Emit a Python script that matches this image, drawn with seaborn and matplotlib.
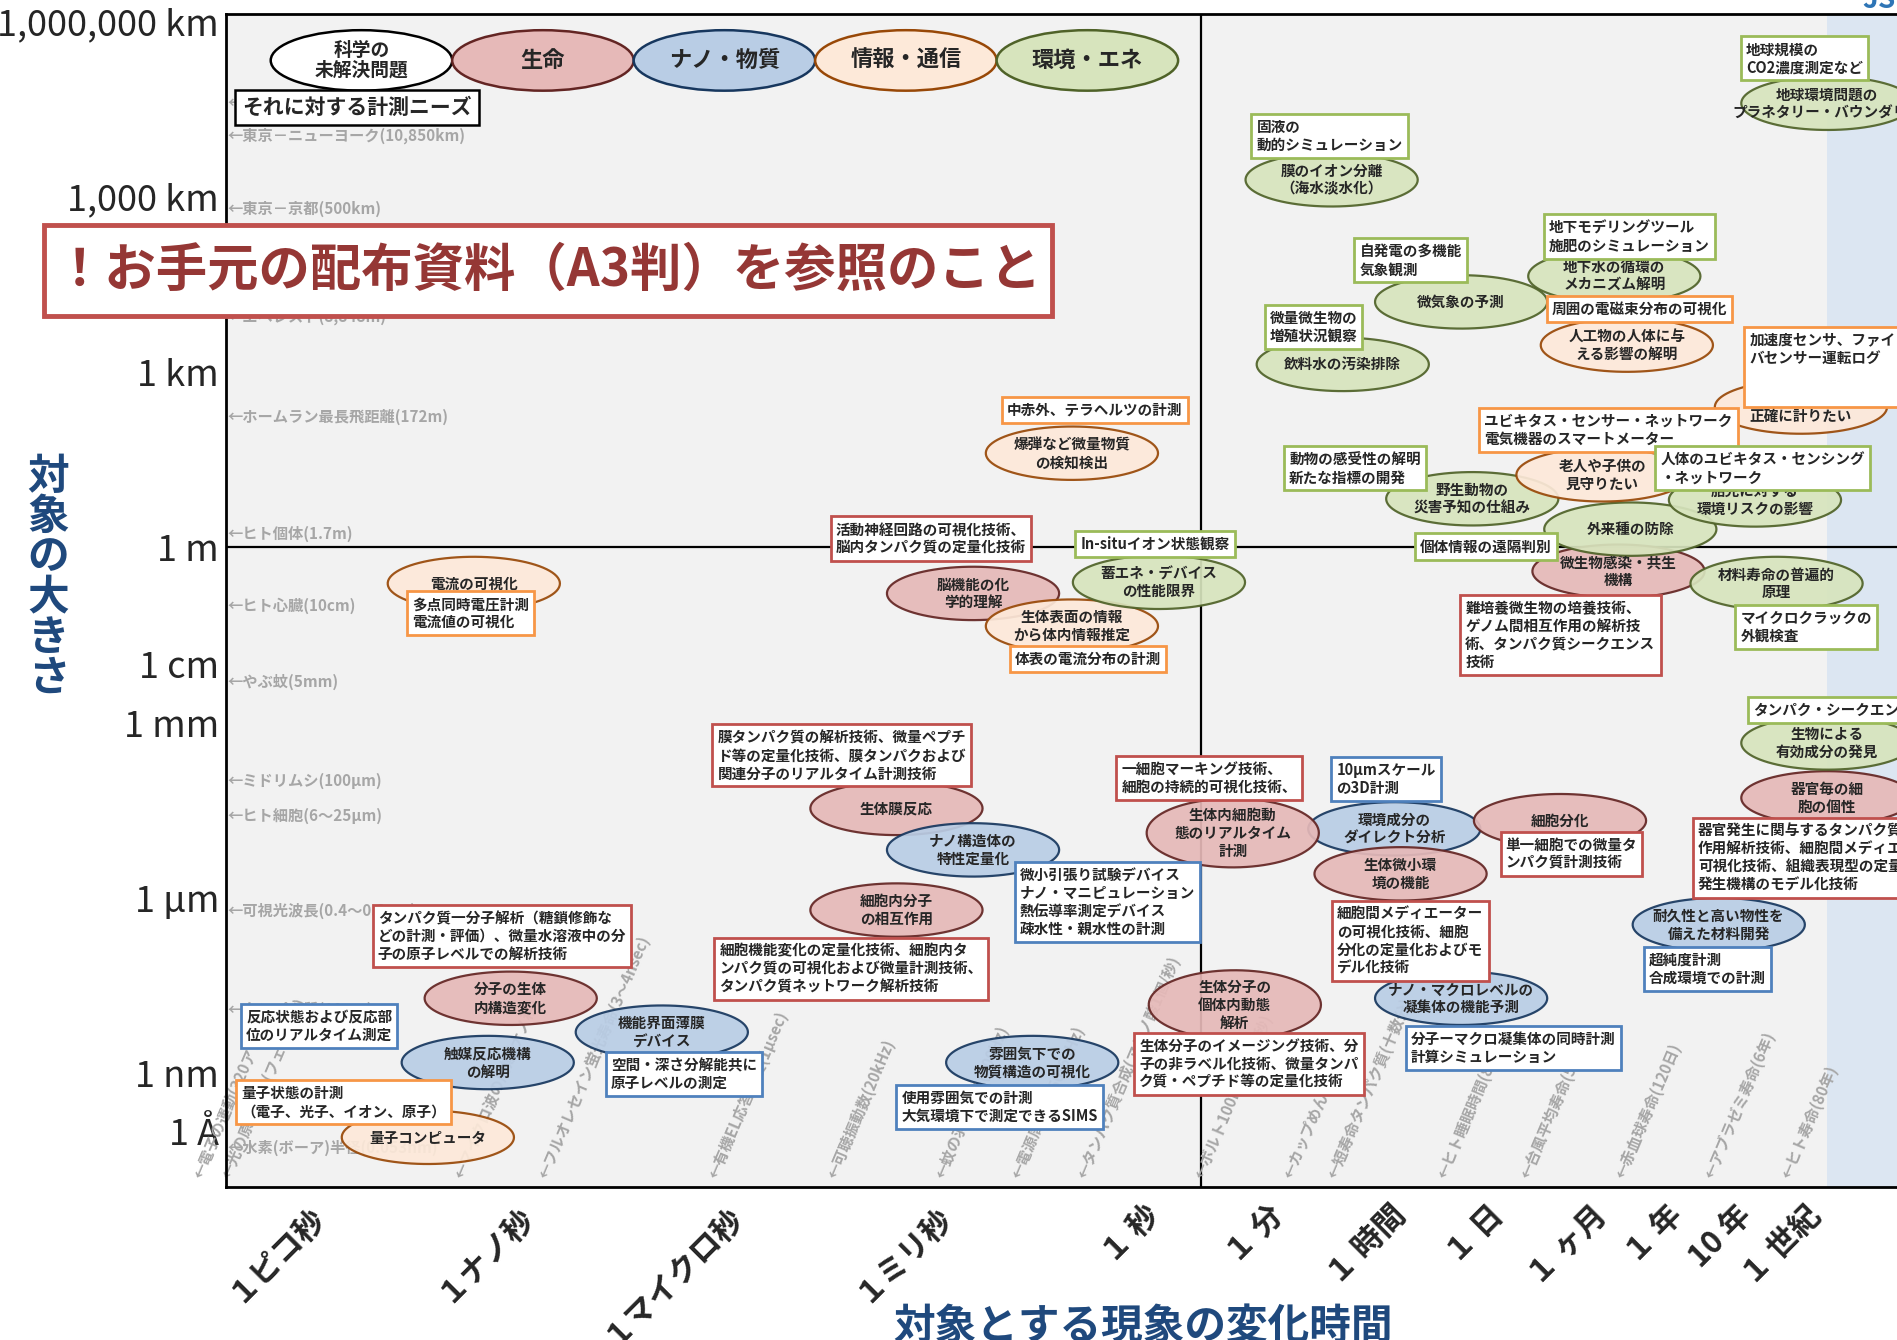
import matplotlib.pyplot as plt
import matplotlib.transforms as mtransforms
from matplotlib.markers import MarkerStyle
from matplotlib.patches import Ellipse, Rectangle
from matplotlib.path import Path
from matplotlib.ticker import LogLocator, NullFormatter
import numpy as np
import pandas as pd
import seaborn as sns

# ---------------------------------------------------------------- data ----
# axis ticks (time in seconds, size in metres)
time_tick_labels = ["１ピコ秒", "１ナノ秒", "１マイクロ秒", "１ミリ秒", "１ 秒", "１ 分",
                    "１ 時間", "１ 日", "１ ヶ月", "１ 年", "10 年", "１ 世紀"]
time_tick_seconds = [1e-12, 1e-9, 1e-6, 1e-3, 1, 60, 3600, 86400, 2.63e6,
                     3.156e7, 3.156e8, 3.156e9]
size_tick_labels = ["1,000,000 km", "1,000 km", "1 km", "1 m", "1 cm", "1 mm",
                    "1 μm", "1 nm", "1 Å"]
size_tick_exp = [9, 6, 3, 0, -2, -3, -6, -9, -10]

# grey reference scales
size_ref_labels = ["地球周囲(40,000km)", "東京－ニューヨーク(10,850km)", "東京－京都(500km)",
                   "エベレスト(8,848m)", "ホームラン最長飛距離(172m)", "ヒト個体(1.7m)",
                   "ヒト心臓(10cm)", "やぶ蚊(5mm)", "ミドリムシ(100μm)", "ヒト細胞(6～25μm)",
                   "可視光波長(0.4～0.8μm)", "タンパク質(10nm)", "水素(ボーア)半径(0.053nm)"]
size_ref_metres = [4e7, 1.085e7, 6.3e5, 8848, 172, 1.7, 0.1, 5e-3, 1e-4, 2.5e-5,
                   6e-7, 1.2e-8, 5.3e-11]
time_ref_labels = ["電子の運動(320アト秒)", "光の原子通過(フェムト秒)", "マイクロ波の周期(ナノ秒)",
                   "フルオレセイン蛍光寿命(3～4nsec)", "有機EL応答速度(1μsec)",
                   "可聴振動数(20kHz)", "蚊の羽ばたき(600Hz)", "電源周波数(50/60Hz)",
                   "タンパク質合成(アミノ酸1個/秒)", "ボルト100m走(9.58秒)", "カップめん(3分)",
                   "短寿命タンパク質(十数分)", "ヒト睡眠時間(8時間)", "台風平均寿命(5.3日)",
                   "赤血球寿命(120日)", "アブラゼミ寿命(6年)", "ヒト寿命(80年)"]
time_ref_exp = [-13.4, -13.0, -9.65, -8.45, -6.0, -4.3, -2.75, -1.65, -0.7, 0.98,
                2.26, 2.88, 4.46, 5.66, 7.02, 8.3, 9.4]

# research fields (legend row)
field_keys = ["open", "life", "nano", "info", "env"]
field_labels = ["科学の\n未解決問題", "生命", "ナノ・物質", "情報・通信", "環境・エネ"]

# themes (ellipses): label, field, log10 seconds, log10 metres
theme_labels = [
    "電流の可視化", "爆弾など微量物質\nの検知検出", "脳機能の化\n学的理解",
    "生体表面の情報\nから体内情報推定", "蓄エネ・デバイス\nの性能限界", "生体膜反応",
    "ナノ構造体の\n特性定量化", "細胞内分子\nの相互作用", "分子の生体\n内構造変化",
    "触媒反応機構\nの解明", "量子コンピュータ", "機能界面薄膜\nデバイス",
    "雰囲気下での\n物質構造の可視化", "生体内細胞動\n態のリアルタイム\n計測",
    "生体分子の\n個体内動態\n解析", "環境成分の\nダイレクト分析", "生体微小環\n境の機能",
    "細胞分化", "ナノ・マクロレベルの\n凝集体の機能予測", "耐久性と高い物性を\n備えた材料開発",
    "器官毎の細\n胞の個性", "生物による\n有効成分の発見", "微生物感染・共生\n機構",
    "材料寿命の普遍的\n原理", "野生動物の\n災害予知の仕組み", "外来種の防除",
    "老人や子供の\n見守りたい", "胎児に対する\n環境リスクの影響", "建造物の寿命を\n正確に計りたい",
    "膜のイオン分離\n（海水淡水化）", "微気象の予測", "地下水の循環の\nメカニズム解明",
    "人工物の人体に与\nえる影響の解明", "飲料水の汚染排除",
    "地球環境問題の\nプラネタリー・バウンダリー",
]
theme_fields = [
    "info", "info", "life", "info", "env", "life", "nano", "life", "life", "nano",
    "info", "nano", "nano", "life", "life", "nano", "life", "life", "nano", "nano",
    "life", "env", "life", "env", "env", "env", "info", "env", "info", "env",
    "env", "env", "info", "env", "env",
]
theme_time_exp = [
    -9.44, -0.85, -2.27, -0.85, 0.40, -3.37, -2.27, -3.37, -8.91, -9.24,
    -10.10, -6.74, -1.42, 1.46, 1.49, 3.78, 3.87, 6.16, 4.74, 8.44,
    10.0, 10.0, 7.0, 9.27, 4.90, 7.17, 6.77, 8.96, 9.62, 2.88,
    4.74, 6.94, 7.12, 3.04, 10.0,
]
theme_size_exp = [
    -0.62, 1.61, -0.79, -1.35, -0.60, -4.47, -5.18, -6.21, -7.72, -8.82,
    -10.10, -8.30, -8.82, -4.89, -7.83, -4.82, -5.59, -4.68, -7.72, -6.46,
    -4.29, -3.35, -0.41, -0.62, 0.83, 0.31, 1.24, 0.81, 2.40, 6.29,
    4.20, 4.64, 3.46, 3.13, 7.60,
]

# measurement needs (boxes): label, field, log10 seconds / metres of top-left corner
need_labels = [
    "多点同時電圧計測\n電流値の可視化", "中赤外、テラヘルツの計測",
    "活動神経回路の可視化技術、\n脳内タンパク質の定量化技術", "体表の電流分布の計測",
    "In-situイオン状態観察",
    "膜タンパク質の解析技術、微量ペプチ\nド等の定量化技術、膜タンパクおよび\n関連分子のリアルタイム計測技術",
    "細胞機能変化の定量化技術、細胞内タ\nンパク質の可視化および微量計測技術、\nタンパク質ネットワーク解析技術",
    "微小引張り試験デバイス\nナノ・マニピュレーション\n熱伝導率測定デバイス\n疎水性・親水性の計測",
    "タンパク質一分子解析（糖鎖修飾な\nどの計測・評価）、微量水溶液中の分\n子の原子レベルでの解析技術",
    "反応状態および反応部\n位のリアルタイム測定", "量子状態の計測\n（電子、光子、イオン、原子）",
    "空間・深さ分解能共に\n原子レベルの測定", "使用雰囲気での計測\n大気環境下で測定できるSIMS",
    "一細胞マーキング技術、\n細胞の持続的可視化技術、",
    "生体分子のイメージング技術、分\n子の非ラベル化技術、微量タンパ\nク質・ペプチド等の定量化技術",
    "10μmスケール\nの3D計測",
    "細胞間メディエーター\nの可視化技術、細胞\n分化の定量化およびモ\nデル化技術",
    "単一細胞での微量タ\nンパク質計測技術", "分子ーマクロ凝集体の同時計測\n計算シミュレーション",
    "超純度計測\n合成環境での計測",
    "器官発生に関与するタンパク質相互\n作用解析技術、細胞間メディエーターの\n可視化技術、組織表現型の定量化、\n発生機構のモデル化技術",
    "タンパク・シークエンサー",
    "難培養微生物の培養技術、\nゲノム間相互作用の解析技\n術、タンパク質シークエンス\n技術",
    "マイクロクラックの\n外観検査", "個体情報の遠隔判別", "動物の感受性の解明\n新たな指標の開発",
    "ユビキタス・センサー・ネットワーク\n電気機器のスマートメーター",
    "人体のユビキタス・センシング\n・ネットワーク", "加速度センサ、ファイ\nバセンサー運転ログ\n\n ",
    "固液の\n動的シミュレーション", "自発電の多機能\n気象観測",
    "地下モデリングツール\n施肥のシミュレーション", "周囲の電磁束分布の可視化",
    "微量微生物の\n増殖状況観察", "地球規模の\nCO2濃度測定など",
]
need_fields = [
    "info", "info", "life", "info", "env", "life", "life", "nano", "life", "nano",
    "info", "nano", "nano", "life", "life", "nano", "life", "life", "nano", "nano",
    "life", "env", "life", "env", "env", "env", "info", "env", "info", "env",
    "env", "env", "info", "env", "env",
]
need_time_exp = [
    -10.43, -1.88, -4.34, -1.77, -0.83, -6.04, -6.01, -1.70, -10.92, -12.81,
    -12.88, -7.57, -3.40, -0.24, 0.02, 2.85, 2.86, 5.28, 3.92, 7.34,
    8.04, 8.84, 4.70, 8.65, 4.05, 2.17, 4.97, 7.50, 8.78, 1.70,
    3.18, 5.90, 5.94, 1.89, 8.73,
]
need_size_exp = [
    -0.72, 2.61, 0.56, -1.66, 0.31, -3.00, -6.65, -5.36, -6.09, -7.78,
    -9.09, -8.61, -9.17, -3.54, -8.28, -3.56, -6.02, -4.84, -8.16, -6.81,
    -4.60, -2.53, -0.79, -0.95, 0.27, 1.76, 2.42, 1.76, 3.81, 7.45,
    5.32, 5.73, 4.33, 4.18, 8.78,
]

# --------------------------------------------------------------- styles ----
FACE = {"open": "white", "life": "#E6B9B8", "nano": "#B9CDE5",
        "info": "#FDE9D9", "env": "#D7E4BD"}
EDGE = {"open": "black", "life": "#632523", "nano": "#17375E",
        "info": "#984807", "env": "#4F6228"}
BOX = {"life": "#C0504D", "nano": "#4F81BD", "info": "#F79646", "env": "#9BBB59"}
GREY = "#A6A6A6"
NAVY = "#1F497D"

sns.set_theme(style="white")
plt.rcParams["font.family"] = ["Noto Sans CJK JP", "DejaVu Sans"]
plt.rcParams["axes.unicode_minus"] = False

fig = plt.figure(figsize=(18.97, 13.40), dpi=100)
ax = fig.add_axes([0.1191, 0.1142, 0.8809, 0.8750])
ax.set_facecolor("#F2F2F2")
ax.set_xscale("log")
ax.set_yscale("log")

for side in ["left", "bottom", "top"]:
    ax.spines[side].set_color("black")
    ax.spines[side].set_linewidth(2)
ax.spines["right"].set_visible(False)

ax.axvspan(1e10, 1e11, color="#DCE6F2", zorder=0.5, lw=0)
ax.axhline(1, color="black", lw=1.6, zorder=1)
ax.axvline(10, color="black", lw=1.6, zorder=1)

# grey reference scales
ytrans = mtransforms.blended_transform_factory(ax.transAxes, ax.transData)
for lab, m in zip(size_ref_labels, size_ref_metres):
    ax.text(0.001, m, "←" + lab, transform=ytrans, ha="left", va="center",
            fontsize=11, color=GREY, fontweight="bold", zorder=1.5)
xtrans = mtransforms.blended_transform_factory(ax.transData, ax.transAxes)
for lab, e in zip(time_ref_labels, time_ref_exp):
    ax.text(10.0 ** e, 0.008, "←" + lab, transform=xtrans, rotation=67,
            rotation_mode="anchor", ha="left", va="center", fontsize=11,
            color=GREY, fontweight="bold", zorder=1.5, clip_on=False)

# themes drawn as ellipse markers through seaborn
themes = pd.DataFrame({"label": theme_labels, "field": theme_fields,
                       "t": 10.0 ** np.array(theme_time_exp),
                       "m": 10.0 ** np.array(theme_size_exp)})
themes["tall"] = themes.label.str.count("\n") >= 2


def ellipse_marker(aspect):
    th = np.linspace(0, 2 * np.pi, 90)
    verts = np.column_stack([np.cos(th), aspect * np.sin(th)])
    return MarkerStyle(Path(verts, closed=True))


for tall, part in themes.groupby("tall"):
    sns.scatterplot(data=part, x="t", y="m", hue="field", palette=FACE,
                    marker=ellipse_marker(0.40 if tall else 0.31), s=124 ** 2,
                    linewidth=1.6, alpha=0.92, legend=False, ax=ax, zorder=3)
    ax.collections[-1].set_edgecolor([EDGE[f] for f in part.field])
ax.set_xlabel("")
ax.set_ylabel("")

for row in themes.itertuples():
    ax.text(row.t, row.m, row.label, ha="center", va="center", multialignment="center",
            fontsize=10.5, fontweight="bold", linespacing=1.15, zorder=4)

# measurement needs drawn as boxes
for lab, f, te, me in zip(need_labels, need_fields, need_time_exp, need_size_exp):
    ax.annotate(lab, xy=(10.0 ** te, 10.0 ** me), xytext=(5, -5),
                textcoords="offset points", ha="left", va="top", fontsize=10.5,
                fontweight="bold", linespacing=1.15, zorder=5, annotation_clip=False,
                bbox=dict(boxstyle="square,pad=0.35", fc="white", ec=BOX[f], lw=2))

# axis limits and ticks
ax.set_xlim(1e-13, 1e11)
ax.set_ylim(10 ** -10.95, 10 ** 9.12)
ax.set_xticks([10.0 ** k for k in range(-13, 12)])
ax.set_xticklabels([])
ax.xaxis.set_minor_locator(LogLocator(base=10, subs=np.arange(2, 10), numticks=200))
ax.xaxis.set_minor_formatter(NullFormatter())
ytick_text = {e: lab for e, lab in zip(size_tick_exp, size_tick_labels)}
ax.set_yticks([10.0 ** k for k in range(-10, 10)],
              [ytick_text.get(k, "") for k in range(-10, 10)])
ax.yaxis.set_minor_locator(LogLocator(base=10, subs=np.arange(2, 10), numticks=200))
ax.yaxis.set_minor_formatter(NullFormatter())
ax.tick_params(which="major", direction="inout", length=16, width=2, color="black")
ax.tick_params(which="minor", direction="out", length=7, width=1.2, color="black")
ax.tick_params(axis="y", which="major", labelsize=26, pad=-3)

for lab, sec in zip(time_tick_labels, time_tick_seconds):
    ax.annotate(lab, xy=(sec, 0), xycoords=("data", "axes fraction"),
                xytext=(9, -9), textcoords="offset points", rotation=45,
                rotation_mode="anchor", ha="right", va="top", fontsize=22,
                fontweight="bold", annotation_clip=False)

# legend row of fields
for i, (key, lab) in enumerate(zip(field_keys, field_labels)):
    cx = 0.0811 + i * 0.1086
    ax.add_patch(Ellipse((cx, 0.9608), 0.1086, 0.0516, transform=ax.transAxes,
                         fc=FACE[key], ec=EDGE[key], lw=1.8, zorder=6))
    ax.text(cx, 0.9608, lab, transform=ax.transAxes, ha="center", va="center",
            fontsize=16 if "\n" not in lab else 13.5, fontweight="bold",
            linespacing=1.05, zorder=7)
ax.text(0.0782, 0.9205, "それに対する計測ニーズ", transform=ax.transAxes, ha="center",
        va="center", fontsize=15, fontweight="bold", zorder=8,
        bbox=dict(boxstyle="square,pad=0.35", fc="white", ec="black", lw=1.8))

# axis titles
fig.text(0.0255, 0.569, "\n".join("対象の大きさ"), ha="center", va="center",
         fontsize=30, fontweight="bold", color=NAVY, linespacing=0.95)
fig.text(0.6026, 0.0097, "対象とする現象の変化時間", ha="center", va="center",
         fontsize=30, fontweight="bold", color=NAVY)
fig.text(0.982, 1.0, "JST", ha="left", va="center", fontsize=20, color="#2E75B6",
         style="italic", fontweight="bold")

# notice banner
fig.add_artist(Rectangle((0.0230, 0.7642), 0.5318, 0.0679, transform=fig.transFigure,
                         fc="white", ec="#C0504D", lw=3.5, zorder=10))
fig.text(0.2889, 0.7985, "！お手元の配布資料（A3判）を参照のこと", ha="center",
         va="center", fontsize=37, fontweight="bold", color="#953735", zorder=11)

fig.savefig("out.png", dpi=100)
